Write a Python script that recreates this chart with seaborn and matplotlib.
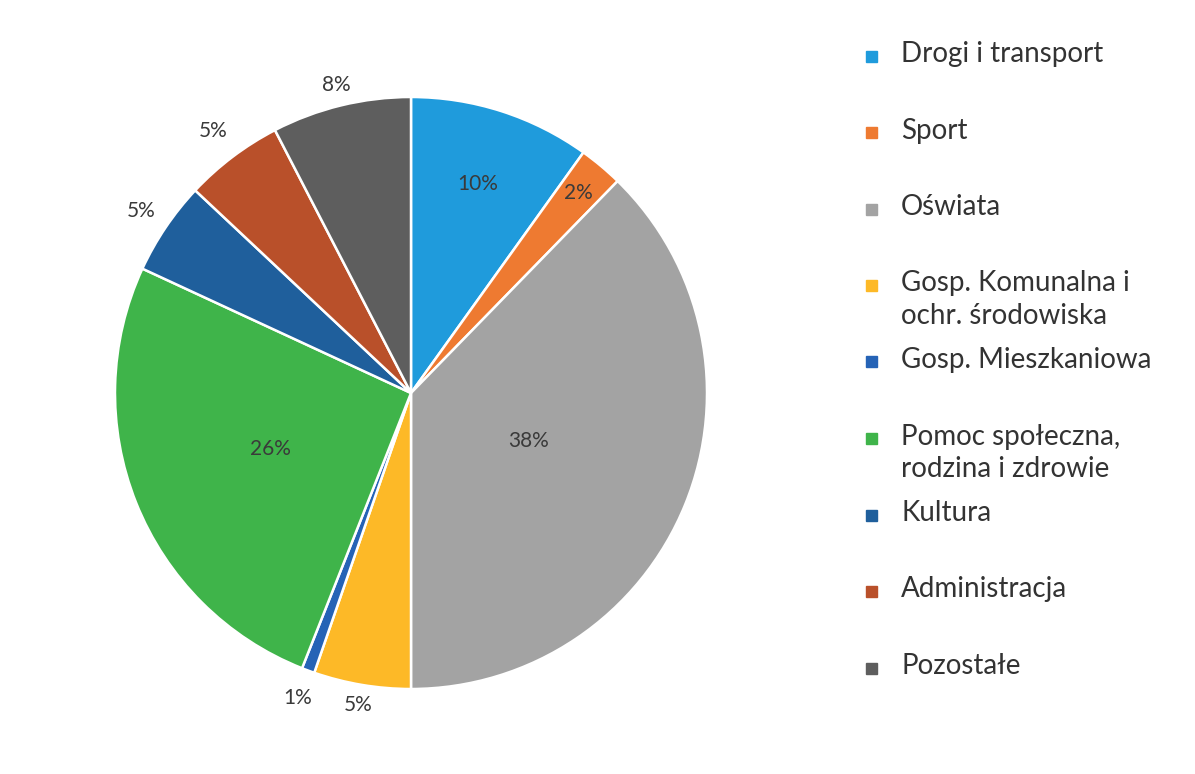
import numpy as np
import seaborn as sns
import matplotlib.pyplot as plt
from matplotlib.patches import Rectangle

# udzialy wydatkow (%)
kategorie = ['Drogi i transport', 'Sport', 'Oświata',
             'Gosp. Komunalna i\nochr. środowiska', 'Gosp. Mieszkaniowa',
             'Pomoc społeczna,\nrodzina i zdrowie', 'Kultura',
             'Administracja', 'Pozostałe']
udzialy = [9.9, 2.4, 37.7, 5.3, 0.7, 25.9, 5.1, 5.4, 7.6]
kolory = ['#1f9bdc', '#ee7a31', '#a3a3a3', '#fdb927', '#2563b6',
          '#3fb44a', '#1f5f9c', '#b9502a', '#5e5e5e']
# odleglosc etykiety od srodka (w promieniach)
odl_etykiet = [0.74, 0.88, 0.43, 1.07, 1.10, 0.51, 1.10, 1.11, 1.07]

sns.set_theme(style='white')
plt.rcParams['font.family'] = ['Lato', 'DejaVu Sans']

W, H = 1195, 774
fig = plt.figure(figsize=(W / 100, H / 100), dpi=100)
fig.patch.set_facecolor('white')

cx, cy, R = 411, 393, 296
ax = fig.add_axes([(cx - R) / W, (H - cy - R) / H, 2 * R / W, 2 * R / H])

wedges, _ = ax.pie(udzialy, colors=sns.color_palette(kolory), startangle=90,
                   counterclock=False,
                   wedgeprops=dict(edgecolor='white', linewidth=1.8))
ax.set_xlim(-1, 1)
ax.set_ylim(-1, 1)
ax.set_aspect('equal')
ax.axis('off')

for w, val, d in zip(wedges, udzialy, odl_etykiet):
    kat = np.deg2rad((w.theta1 + w.theta2) / 2)
    ax.text(d * np.cos(kat), d * np.sin(kat), f'{round(val)}%',
            ha='center', va='center', fontsize=15, color='#3a3a3a')

# legenda po prawej
y0, krok = 56, 76.5
for i, (kat_nazwa, kol) in enumerate(zip(kategorie, kolory)):
    y = y0 + i * krok
    fig.patches.append(Rectangle((866 / W, (H - y - 5.5) / H), 11 / W, 11 / H,
                                 transform=fig.transFigure, color=kol))
    fig.text(901 / W, (H - y + 15) / H, kat_nazwa, ha='left', va='top',
             fontsize=20, color='#333333', linespacing=1.3)

plt.savefig('out.png', dpi=100, facecolor='white')
